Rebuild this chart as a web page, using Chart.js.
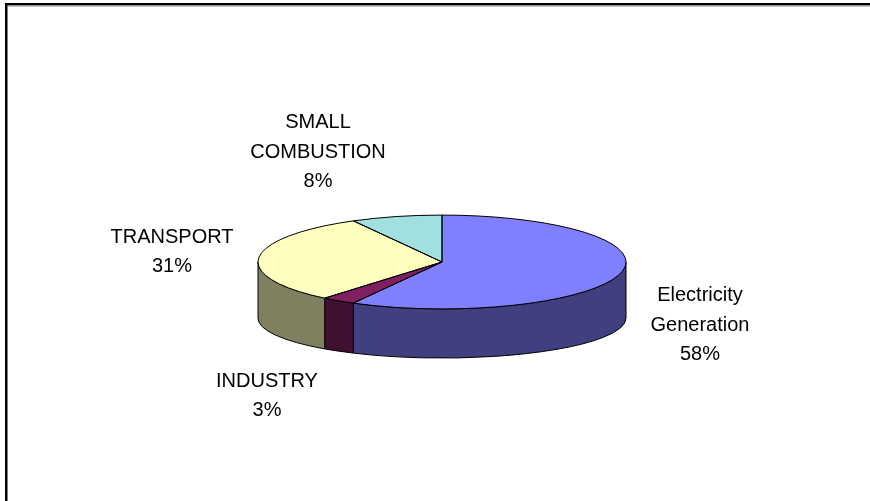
<!DOCTYPE html>
<html>
<head>
<meta charset="utf-8">
<script src="https://cdn.jsdelivr.net/npm/chart.js@4"></script>
<style>
  body { margin: 0; background: #fff; }
  #wrap { width: 870px; height: 501px; position: relative; }
</style>
</head>
<body>
<div id="wrap"><canvas id="myChart"></canvas></div>
<script>
const categories = ['Electricity Generation', 'INDUSTRY', 'TRANSPORT', 'SMALL COMBUSTION'];
const shares = [58, 3, 31, 8];

// label text lines, one entry per slice
const labelLines = [
    ['Electricity', 'Generation', '58%'],
    ['INDUSTRY', '3%'],
    ['TRANSPORT', '31%'],
    ['SMALL', 'COMBUSTION', '8%']
];

const topColors = ['#8080FF', '#802060', '#FFFFC0', '#A0E0E0'];
const sideColors = ['#404080', '#401030', '#808060', '#507070'];

// where each label block sits, relative to the pie centre
const labelOffsets = [[258, 63], [-175, 134], [-270, -10], [-124, -110]];

const tilt = 0.255;      // top face height / width
const bottomTilt = 0.217;
const depth = 0.305;     // drop of the bottom rim, in radii

const frame = {
    id: 'frame',
    beforeDraw(chart) {
        const c = chart.ctx;
        c.save();
        c.fillStyle = '#fff';
        c.fillRect(0, 0, chart.width, chart.height);
        c.fillStyle = '#000';
        c.fillRect(5, 3, chart.width - 5, 2.5);
        c.fillRect(5, 3, 2.5, chart.height - 3);
        c.fillStyle = '#999';
        c.fillRect(7.5, 5.5, chart.width - 7.5, 1);
        c.restore();
    }
};

const pie3d = {
    id: 'pie3d',
    beforeDatasetsDraw(chart) {
        const c = chart.ctx;
        const arcs = chart.getDatasetMeta(0).data;
        const cx = arcs[0].x, cy = arcs[0].y, r = arcs[0].outerRadius;
        const ry = r * tilt, ryB = r * bottomTilt, drop = r * depth;

        // front wall, only the part between 0 and PI faces us
        c.save();
        c.lineWidth = 1;
        c.strokeStyle = '#000';
        arcs.forEach((a, i) => {
            const s = Math.max(a.startAngle, 0);
            const e = Math.min(a.endAngle, Math.PI);
            if (e <= s) return;
            c.beginPath();
            c.ellipse(cx, cy, r, ry, 0, s, e);
            c.ellipse(cx, cy + drop, r, ryB, 0, e, s, true);
            c.closePath();
            c.fillStyle = sideColors[i];
            c.fill();
            c.stroke();
        });
        c.restore();

        // squash the top face
        c.save();
        c.translate(cx, cy);
        c.scale(1, tilt);
        c.translate(-cx, -cy);
    },
    afterDatasetsDraw(chart) {
        const c = chart.ctx;
        c.restore();
        const arcs = chart.getDatasetMeta(0).data;
        const cx = arcs[0].x, cy = arcs[0].y, r = arcs[0].outerRadius;
        c.save();
        c.lineWidth = 1;
        c.strokeStyle = '#000';
        arcs.forEach(a => {
            c.beginPath();
            c.moveTo(cx, cy);
            c.ellipse(cx, cy, r, r * tilt, 0, a.startAngle, a.endAngle);
            c.closePath();
            c.stroke();
        });

        c.fillStyle = '#000';
        c.font = '20px "Liberation Sans", Arial, sans-serif';
        c.textAlign = 'center';
        c.textBaseline = 'middle';
        const lh = 29.5;
        labelLines.forEach((lines, i) => {
            const x = cx + labelOffsets[i][0];
            const y0 = cy + labelOffsets[i][1] - (lines.length - 1) * lh / 2;
            lines.forEach((t, k) => c.fillText(t, x, y0 + k * lh));
        });
        c.restore();
    }
};

const config = {
    type: 'pie',
    data: {
        labels: categories,
        datasets: [{
            data: shares,
            backgroundColor: topColors,
            borderWidth: 0,
            hoverOffset: 0,
            offset: 0
        }]
    },
    options: {
        responsive: true,
        maintainAspectRatio: false,
        animation: false,
        events: [],
        layout: { padding: { left: 258, right: 244, top: 78, bottom: 55 } },
        plugins: {
            legend: { display: false },
            tooltip: { enabled: false },
            title: { display: false }
        }
    },
    plugins: [frame, pie3d]
};

const ctx = document.getElementById('myChart');
const myChart = new Chart(ctx, config);
</script>
</body>
</html>
